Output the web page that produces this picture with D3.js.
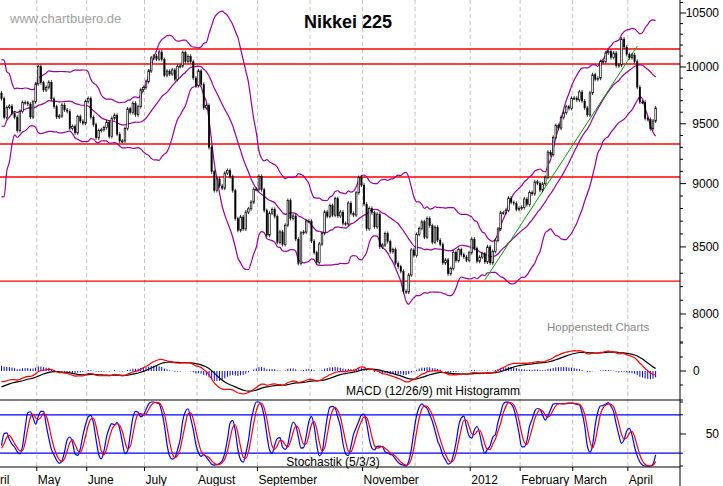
<!DOCTYPE html>
<html><head><meta charset="utf-8">
<script src="https://cdn.jsdelivr.net/npm/d3@7"></script>
<style>body{margin:0;background:#fff}svg{display:block;font-family:"Liberation Sans",Arial,sans-serif}</style>
</head><body><svg id="c" width="723" height="486"></svg>
<script>
// warm-up closes (March / early April 2011) used only for indicators
const warmup=[10754,10492,10586,10693,10505,10525,10589,10434,10254,9620,8605,9093,8962,9206,9608,9449,9435,9536,9478,9459,9708,9755,9708,9718,9615,9584,9590,9768];
// daily closes from 11 April 2011 to 13 April 2012
const closes=[
9719,9555,9641,9653,9591,9556,9441,9607,9685,9682,9671,9558,9691,9849,
10004,9859,9794,9818,9864,9716,9648,9558,9567,9662,9620,9607,9460,9477,9422,9562,9521,9504,9693,
9720,9555,9492,9380,9442,9449,9467,9514,9391,9547,9574,9411,9351,9354,9459,9629,9597,9678,9578,9648,9797,9816,
9868,9965,10082,10100,10071,10137,10069,9926,9963,9936,9974,9889,10005,10010,10132,10050,10097,10047,9901,9833,
9965,9844,9637,9659,9299,9097,8944,9038,8981,8963,9086,9107,9057,8943,8719,8628,8733,8639,8772,8797,8851,8954,8955,
9060,8950,8784,8590,8763,8793,8737,8535,8616,8518,8668,8864,8721,8741,8560,8374,8609,8615,8701,8700,
8545,8456,8382,8522,8605,8773,8738,8823,8747,8879,8741,8772,8682,8678,8843,8762,8748,8926,9050,8988,
8835,8640,8801,8767,8655,8755,8500,8514,8603,8541,8463,8479,8374,8349,8314,8165,8160,8287,8477,8434,
8597,8643,8695,8575,8722,8664,8536,8653,8552,8519,8377,8401,8296,8336,8459,8395,8479,8440,8423,8398,8455,
8560,8488,8390,8422,8447,8385,8500,8378,8466,8550,8639,8766,8765,8785,8883,8849,8841,8793,8802,
8809,8876,8831,8929,8917,9015,9002,8947,8999,9052,9260,9238,9384,9485,9463,9554,9595,9647,9633,9722,9723,
9707,9777,9698,9637,9576,9768,9930,9889,9899,10050,10050,10129,10141,10086,10127,10011,10018,10255,10182,10114,10084,
10109,10050,9819,9688,9688,9546,9538,9458,9524,9637];
const monthLabels=["ril","May","June","July","August","September","","November","","2012","February","March","April"];
const monthStarts=[-14,14,33,55,75,98,118,138,158,179,198,218,239];
const levels=[10164,10027,9328,9054,8241];
const priceTicks=[8000,8500,9000,9500,10000,10500];
const trend=[[184,8250],[242,10190]];

const svg=d3.select("#c");
const W=680;
const x=d3.scaleLinear().domain([0,1]).range([1.5,1.5+2.627]);
const y=d3.scaleLog().domain([8000,10000]).range([314,67]);
const all=warmup.concat(closes), off=warmup.length;

function sma(a,n,i){let s=0;for(let k=i-n+1;k<=i;k++)s+=a[k];return s/n;}
const bb=closes.map((c,j)=>{const i=j+off;const m=sma(all,20,i);let v=0;for(let k=i-19;k<=i;k++)v+=(all[k]-m)**2;const sd=Math.sqrt(v/20);return{m,u:m+2*sd,l:m-2*sd};});
function ema(a,n){const k=2/(n+1);const o=[a[0]];for(let i=1;i<a.length;i++)o.push(a[i]*k+o[i-1]*(1-k));return o;}
const e12=ema(all,12),e26=ema(all,26);const macd=all.map((v,i)=>e12[i]-e26[i]);const sig=ema(macd,9);
const raw=all.map((c,i)=>{if(i<4)return 50;const w=all.slice(i-4,i+1);const hi=d3.max(w),lo=d3.min(w);return hi===lo?50:100*(c-lo)/(hi-lo);});
const kk=raw.map((v,i)=>i<2?v:(raw[i]+raw[i-1]+raw[i-2])/3);
const K=kk.map((v,i)=>i<2?v:(kk[i]+kk[i-1]+kk[i-2])/3);
const D=K.map((v,i)=>i<2?v:(K[i]+K[i-1]+K[i-2])/3);

svg.append("defs").append("clipPath").attr("id","cp").append("rect").attr("x",0).attr("y",0).attr("width",W).attr("height",343);

monthStarts.forEach(m=>{const xx=x(m)-1.5;if(xx<0)return;svg.append("line").attr("x1",xx).attr("x2",xx).attr("y1",0).attr("y2",467).attr("stroke","#c4c4c4").attr("stroke-dasharray","4,3");});

svg.append("text").attr("x",10).attr("y",23).attr("fill","#a0a0a0").attr("font-size",13).text("www.chartbuero.de");
svg.append("text").attr("x",304).attr("y",28).attr("font-size",18).attr("font-weight","bold").text("Nikkei 225");
svg.append("text").attr("x",547).attr("y",331).attr("fill","#888").attr("font-size",11.5).text("Hoppenstedt Charts");

const g=svg.append("g").attr("clip-path","url(#cp)");
levels.forEach(v=>g.append("line").attr("x1",0).attr("x2",W).attr("y1",y(v)).attr("y2",y(v)).attr("stroke","#f00").attr("stroke-width",1.3));
["u","m","l"].forEach(k=>g.append("path").attr("d",d3.line().x((d,i)=>x(i)).y(d=>y(d[k])).curve(d3.curveMonotoneX)(bb)).attr("fill","none").attr("stroke","#990099").attr("stroke-width",1.2));
g.append("line").attr("x1",x(trend[0][0])).attr("y1",y(trend[0][1])).attr("x2",x(trend[1][0])).attr("y2",y(trend[1][1])).attr("stroke","#090").attr("stroke-width",1);
closes.forEach((c,i)=>{const o=i===0?warmup[warmup.length-1]:closes[i-1];const t=y(Math.max(o,c)),b=y(Math.min(o,c));const up=c>=o;
 g.append("line").attr("x1",x(i)).attr("x2",x(i)).attr("y1",t-2).attr("y2",b+2).attr("stroke","#000").attr("stroke-width",0.8);
 g.append("rect").attr("x",x(i)-0.8).attr("y",t).attr("width",1.6).attr("height",Math.max(1,b-t)).attr("fill",up?"#fff":"#000").attr("stroke","#000").attr("stroke-width",up?0.7:0.3);});

const ym=v=>371-v*0.08;
const ms=macd.slice(off),ss=sig.slice(off);
ms.forEach((v,i)=>{const h=v-ss[i];svg.append("line").attr("x1",x(i)).attr("x2",x(i)).attr("y1",ym(0)).attr("y2",ym(h)).attr("stroke","#00f").attr("stroke-width",1);});
svg.append("path").attr("d",d3.line().x((d,i)=>x(i)).y(d=>ym(d))(ss)).attr("fill","none").attr("stroke","#000").attr("stroke-width",1.2);
svg.append("path").attr("d",d3.line().x((d,i)=>x(i)).y(d=>ym(d))(ms)).attr("fill","none").attr("stroke","#f00").attr("stroke-width",1.2);
svg.append("text").attr("x",433).attr("y",395).attr("text-anchor","middle").attr("font-size",12).text("MACD (12/26/9) mit Histogramm");
svg.append("line").attr("x1",0).attr("x2",W).attr("y1",400).attr("y2",400).attr("stroke","#000");

const ys=d3.scaleLinear().domain([0,100]).range([466,402]);
[80,20].forEach(v=>svg.append("line").attr("x1",0).attr("x2",W).attr("y1",ys(v)).attr("y2",ys(v)).attr("stroke","#00f").attr("stroke-width",1.3));
svg.append("path").attr("d",d3.line().x((d,i)=>x(i)).y(d=>ys(d)).curve(d3.curveMonotoneX)(K.slice(off))).attr("fill","none").attr("stroke","#00f").attr("stroke-width",1.2);
svg.append("path").attr("d",d3.line().x((d,i)=>x(i)).y(d=>ys(d)).curve(d3.curveMonotoneX)(D.slice(off))).attr("fill","none").attr("stroke","#f00").attr("stroke-width",1.2);
svg.append("text").attr("x",333).attr("y",466).attr("text-anchor","middle").attr("font-size",12).text("Stochastik (5/3/3)");
svg.append("line").attr("x1",0).attr("x2",W).attr("y1",467).attr("y2",467).attr("stroke","#000");

monthStarts.forEach((m,i)=>{if(!monthLabels[i])return;const xx=Math.max(0,x(m)-1.5);svg.append("text").attr("x",i===0?0:xx+1).attr("y",484).attr("font-size",12).text(monthLabels[i]);
 if(i>0)svg.append("line").attr("x1",xx).attr("x2",xx).attr("y1",467).attr("y2",471).attr("stroke","#000");});

svg.append("line").attr("x1",W).attr("x2",W).attr("y1",0).attr("y2",486).attr("stroke","#000");
d3.range(7800,10700,100).forEach(v=>{const yy=y(v);if(yy<0||yy>343)return;const maj=v%500===0;svg.append("line").attr("x1",W).attr("x2",W+(maj?6:3)).attr("y1",yy).attr("y2",yy).attr("stroke","#000");});
priceTicks.forEach(v=>svg.append("text").attr("x",719).attr("y",y(v)+4).attr("text-anchor","end").attr("font-size",12).text(v));
[343,357,371,385,400].forEach((yy,i)=>svg.append("line").attr("x1",W).attr("x2",W+(i===2?6:3)).attr("y1",yy).attr("y2",yy).attr("stroke","#000"));
svg.append("text").attr("x",693).attr("y",375).attr("font-size",12).text("0");
[0,20,50,80,100].forEach(v=>svg.append("line").attr("x1",W).attr("x2",W+(v===50?6:3)).attr("y1",ys(v)).attr("y2",ys(v)).attr("stroke","#000"));
svg.append("text").attr("x",719).attr("y",ys(50)+4).attr("text-anchor","end").attr("font-size",12).text("50");
</script></body></html>
